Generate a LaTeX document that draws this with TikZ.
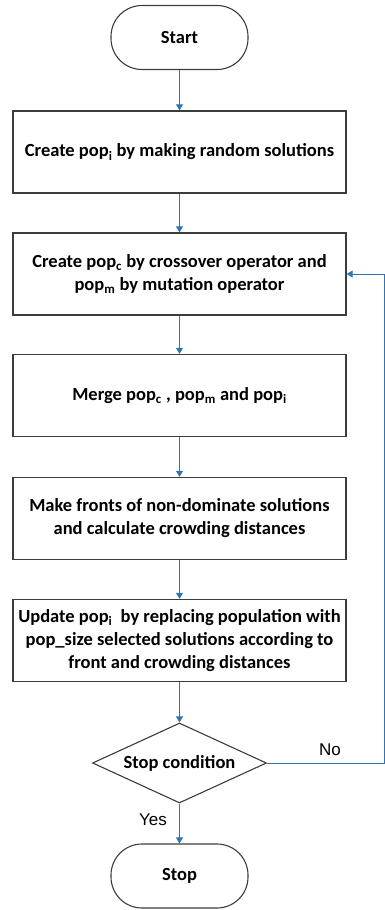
\documentclass[tikz,border=0pt]{standalone}
\usepackage{fontspec}
\setmainfont{Carlito}
\newfontfamily\arialfont{Liberation Sans}
\usetikzlibrary{arrows.meta,shapes.geometric}
\definecolor{arrowblue}{RGB}{46,117,182}
\definecolor{edgegray}{RGB}{60,60,60}
\begin{document}
\begin{tikzpicture}[x=1pt,y=-1pt,
  every node/.style={font=\fontsize{18.5}{23}\selectfont\bfseries},
  procbox/.style={draw=edgegray,line width=1.3pt,minimum width=333pt,minimum height=82pt,align=center,inner sep=0pt},
  termbox/.style={draw=edgegray,line width=1.1pt,rounded corners=31pt,minimum width=137pt,minimum height=64pt,inner sep=0pt},
  decbox/.style={draw=edgegray,line width=1.1pt,diamond,aspect=2.175,minimum width=174pt,minimum height=80pt,inner sep=0pt},
  flow/.style={draw=arrowblue,line width=1pt,-{Triangle[length=6pt,width=7pt]}},
  lbl/.style={font=\fontsize{17}{19}\selectfont\arialfont}]
\useasboundingbox (0,0) rectangle (385,910);
\node[termbox] (start) at (179.5,37.5) {Start};
\node[procbox] (b1) at (179.5,152) {Create pop\textsubscript{i} by making random solutions};
\node[procbox] (b2) at (179.5,274) {Create pop\textsubscript{c} by crossover operator and\\pop\textsubscript{m} by mutation operator};
\node[procbox] (b3) at (179.5,395.5) {Merge pop\textsubscript{c} , pop\textsubscript{m} and pop\textsubscript{i}};
\node[procbox] (b4) at (179.5,518.5) {Make fronts of non-dominate solutions\\and calculate crowding distances};
\node[procbox] (b5) at (179.5,640.5) {Update pop\textsubscript{i}\ \ by replacing population with\\pop\_size selected solutions according to\\front and crowding distances};
\node[decbox] (dec) at (179.5,763) {Stop condition};
\node[termbox] (stop) at (179.5,876) {Stop};
\coordinate (c1) at (384,763);
\coordinate (c2) at (384,274);
\node[lbl] (yes) at (153,820) {Yes};
\node[lbl] (no) at (330,750) {No};
\draw[flow] (start) -- (b1);
\draw[flow] (b1) -- (b2);
\draw[flow] (b2) -- (b3);
\draw[flow] (b3) -- (b4);
\draw[flow] (b4) -- (b5);
\draw[flow] (b5) -- (dec);
\draw[flow] (dec) -- (stop);
\draw[flow] (dec.east) -- (c1) -- (c2) -- (b2.east);
\end{tikzpicture}
\end{document}
